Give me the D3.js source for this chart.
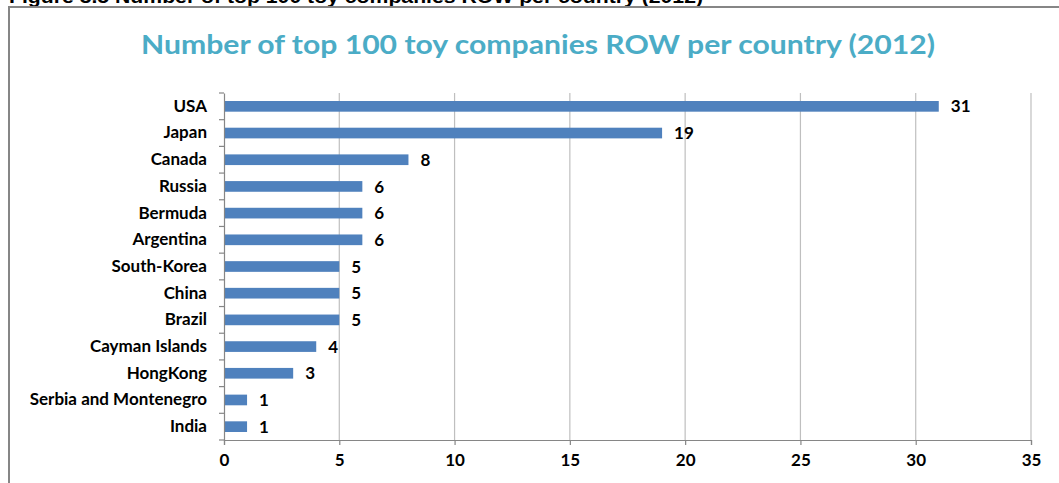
<!DOCTYPE html>
<html>
<head>
<meta charset="utf-8">
<script src="https://cdn.jsdelivr.net/npm/d3@7"></script>
<style>
  html, body { margin: 0; padding: 0; background: #fff; }
  svg { display: block; }
  text { font-family: Lato, "Open Sans", sans-serif; }
</style>
</head>
<body>
<svg id="chart" width="1059" height="483"></svg>
<script>
// Countries, top to bottom, and their number of top-100 toy companies
const countries = ["USA", "Japan", "Canada", "Russia", "Bermuda", "Argentina",
  "South-Korea", "China", "Brazil", "Cayman Islands", "HongKong",
  "Serbia and Montenegro", "India"];
const companies = [31, 19, 8, 6, 6, 6, 5, 5, 5, 4, 3, 1, 1];
const xTicks = [0, 5, 10, 15, 20, 25, 30, 35];

const caption = "Figure 3.5 Number of top 100 toy companies ROW per country (2012)";
const title = "Number of top 100 toy companies ROW per country (2012)";

const data = countries.map((c, i) => ({ country: c, value: companies[i] }));

const svg = d3.select("#chart");
const W = 1059, H = 483;
const margin = { left: 224, right: 28, top: 93, bottom: 43 };
const labelSize = 17;

// Figure caption, running off the top edge of the page
svg.append("text")
  .attr("x", 9).attr("y", 3)
  .style("font-family", "'Liberation Sans', Arial, sans-serif")
  .attr("font-size", 19).attr("font-weight", "bold")
  .attr("fill", "#000")
  .attr("textLength", 694)
  .attr("lengthAdjust", "spacingAndGlyphs")
  .text(caption);

// Chart frame
svg.append("path")
  .attr("d", `M9,${H + 5} V7 H${W + 5}`)
  .attr("fill", "none")
  .attr("stroke", "#868686")
  .attr("stroke-width", 2);

// Title
svg.append("text")
  .attr("x", 538).attr("y", 54)
  .attr("text-anchor", "middle")
  .attr("font-size", 26).attr("font-weight", "bold")
  .attr("fill", "#4BACC6")
  .attr("textLength", 794)
  .attr("lengthAdjust", "spacingAndGlyphs")
  .text(title);

const x = d3.scaleLinear()
  .domain([0, 35])
  .range([margin.left, W - margin.right]);

const y = d3.scaleBand()
  .domain(countries)
  .range([margin.top, H - margin.bottom])
  .paddingInner(0.6)
  .paddingOuter(0.3);

const yOuter = d3.scaleBand()
  .domain(countries)
  .range([margin.top, H - margin.bottom]);

// Vertical gridlines
svg.append("g")
  .selectAll("line")
  .data(xTicks.slice(1))
  .join("line")
  .attr("x1", d => x(d)).attr("x2", d => x(d))
  .attr("y1", margin.top).attr("y2", H - margin.bottom)
  .attr("stroke", "#BFBFBF")
  .attr("stroke-width", 1.2);

// Bars
svg.append("g")
  .selectAll("rect")
  .data(data)
  .join("rect")
  .attr("x", x(0))
  .attr("y", d => y(d.country))
  .attr("width", d => x(d.value) - x(0))
  .attr("height", y.bandwidth())
  .attr("fill", "#4F81BD");

// Value labels
svg.append("g")
  .selectAll("text")
  .data(data)
  .join("text")
  .attr("x", d => x(d.value) + 12)
  .attr("y", d => y(d.country) + y.bandwidth() / 2)
  .attr("dy", "0.36em")
  .attr("font-size", labelSize).attr("font-weight", "bold")
  .attr("fill", "#000")
  .text(d => d.value);

// Category axis
const yAxis = svg.append("g")
  .attr("transform", `translate(${x(0)},0)`)
  .call(d3.axisLeft(yOuter).tickSize(0).tickPadding(17));
yAxis.select(".domain").attr("stroke", "#868686").attr("stroke-width", 1.2);
yAxis.selectAll("text")
  .attr("font-size", labelSize).attr("font-weight", "bold")
  .attr("fill", "#000")
  .style("font-family", "Lato, sans-serif");
// Tick marks between categories
yAxis.append("g")
  .selectAll("line")
  .data(countries.map(c => yOuter(c)).concat([H - margin.bottom]))
  .join("line")
  .attr("x1", -5).attr("x2", 0)
  .attr("y1", d => d).attr("y2", d => d)
  .attr("stroke", "#868686").attr("stroke-width", 1.2);

// Value axis
const xAxis = svg.append("g")
  .attr("transform", `translate(0,${H - margin.bottom})`)
  .call(d3.axisBottom(x).tickValues(xTicks).tickSize(5).tickPadding(9));
xAxis.select(".domain").attr("stroke", "#868686").attr("stroke-width", 1.2);
xAxis.selectAll(".tick line").attr("stroke", "#868686").attr("stroke-width", 1.2);
xAxis.selectAll("text")
  .attr("font-size", labelSize).attr("font-weight", "bold")
  .attr("fill", "#000")
  .style("font-family", "Lato, sans-serif");
</script>
</body>
</html>
